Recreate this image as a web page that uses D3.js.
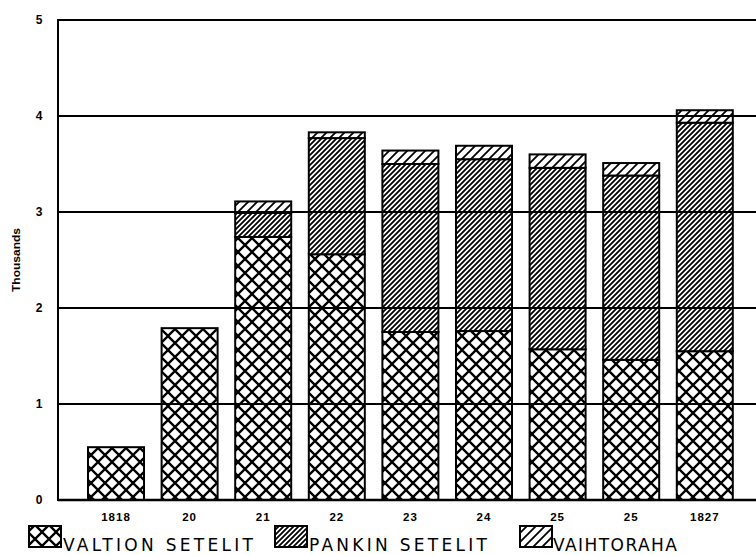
<!DOCTYPE html>
<html>
<head>
<meta charset="utf-8">
<script src="https://cdn.jsdelivr.net/npm/d3@7"></script>
<style>
  html, body { margin: 0; padding: 0; background: #fff; }
  svg { display: block; }
</style>
</head>
<body>
<svg id="chart" width="756" height="555"></svg>
<script>
// ---- data (thousands) ----
const years = ["1818", "20", "21", "22", "23", "24", "25", "25", "1827"];
const valtionSetelit = [0.55, 1.79, 2.74, 2.56, 1.75, 1.76, 1.57, 1.46, 1.55];
const pankinSetelit  = [0, 0, 0.25, 1.21, 1.75, 1.79, 1.89, 1.92, 2.38];
const vaihtoraha     = [0, 0, 0.12, 0.06, 0.14, 0.14, 0.14, 0.13, 0.13];
const yTicks = [0, 1, 2, 3, 4, 5];
const seriesNames = ["VALTION SETELIT", "PANKIN SETELIT", "VAIHTORAHA"];
const yTitle = "Thousands";

const svg = d3.select("#chart");
const defs = svg.append("defs");

// hatch patterns
function crossPattern(id, p, sw) {
  const pat = defs.append("pattern").attr("id", id)
    .attr("patternUnits", "userSpaceOnUse").attr("width", p).attr("height", p);
  pat.append("rect").attr("width", p).attr("height", p).attr("fill", "#fff");
  pat.append("path").attr("d", `M-1,-1 L${p+1},${p+1} M-1,${p+1} L${p+1},-1`)
    .attr("stroke", "#000").attr("stroke-width", sw);
}
function slashPattern(id, p, sw) {
  const pat = defs.append("pattern").attr("id", id)
    .attr("patternUnits", "userSpaceOnUse").attr("width", p).attr("height", p);
  pat.append("rect").attr("width", p).attr("height", p).attr("fill", "#fff");
  pat.append("path").attr("d", `M-1,${p+1} L${p+1},-1 M${-p/2},${p/2} L${p/2},${-p/2} M${p/2},${p*1.5} L${p*1.5},${p/2}`)
    .attr("stroke", "#000").attr("stroke-width", sw);
}
crossPattern("pValtion", 14, 2.3);
slashPattern("pPankin", 5, 1.8);
slashPattern("pVaiht", 9, 1.8);
const fills = ["url(#pValtion)", "url(#pPankin)", "url(#pVaiht)"];

// scales
const x = d3.scaleBand().domain(d3.range(years.length))
  .range([79.2, 741.6]).paddingInner(0.239).paddingOuter(0.1196);
const y = d3.scaleLinear().domain([0, 5]).range([500, 20]);

// stacked data
const rows = years.map((yr, i) => ({ i, v0: valtionSetelit[i], v1: pankinSetelit[i], v2: vaihtoraha[i] }));
const stack = d3.stack().keys(["v0", "v1", "v2"]);
const stacked = stack(rows);

const gBars = svg.append("g");
stacked.forEach((layer, k) => {
  gBars.selectAll(null).data(layer.filter(d => d[1] - d[0] > 0)).enter().append("rect")
    .attr("x", d => x(d.data.i))
    .attr("width", x.bandwidth())
    .attr("y", d => y(d[1]))
    .attr("height", d => y(d[0]) - y(d[1]))
    .attr("fill", fills[k])
    .attr("stroke", "#000")
    .attr("stroke-width", 2);
});

// gridlines (drawn over bars)
const xLeft = 58, xRight = 756;
svg.append("g").selectAll("line").data(yTicks.filter(t => t > 0)).enter().append("line")
  .attr("x1", xLeft).attr("x2", xRight)
  .attr("y1", d => y(d)).attr("y2", d => y(d))
  .attr("stroke", "#000").attr("stroke-width", 2);

// baseline and left axis
svg.append("line").attr("x1", xLeft).attr("x2", xRight).attr("y1", y(0)).attr("y2", y(0))
  .attr("stroke", "#000").attr("stroke-width", 2.6);
svg.append("line").attr("x1", xLeft).attr("x2", xLeft).attr("y1", y(5) - 1).attr("y2", y(0) + 1)
  .attr("stroke", "#000").attr("stroke-width", 2);

// y tick labels
svg.append("g").selectAll("text").data(yTicks).enter().append("text")
  .attr("x", 39).attr("y", d => y(d)).attr("dy", "0.36em")
  .attr("text-anchor", "middle")
  .attr("font-family", "Liberation Sans, Arial, sans-serif")
  .attr("font-weight", "bold").attr("font-size", 12)
  .text(d => d);

// y title
svg.append("text")
  .attr("transform", "translate(20,260) rotate(-90)")
  .attr("text-anchor", "middle")
  .attr("font-family", "Liberation Sans, Arial, sans-serif")
  .attr("font-weight", "bold").attr("font-size", 11.5)
  .attr("textLength", 64).attr("lengthAdjust", "spacingAndGlyphs")
  .text(yTitle);

// x tick labels
svg.append("g").selectAll("text").data(years).enter().append("text")
  .attr("x", (d, i) => x(i) + x.bandwidth() / 2)
  .attr("y", 520.5)
  .attr("text-anchor", "middle")
  .attr("font-family", "Liberation Sans, Arial, sans-serif")
  .attr("font-weight", "bold").attr("font-size", 11.5)
  .attr("letter-spacing", 1)
  .text(d => d);

// legend
const legendBoxes = [29, 275, 520];
const legendTextX = [63, 309, 553];
const legendTextW = [190, 178, 124];
const lg = svg.append("g");
seriesNames.forEach((name, k) => {
  lg.append("rect").attr("x", legendBoxes[k]).attr("y", 526)
    .attr("width", 32).attr("height", 21)
    .attr("fill", fills[k]).attr("stroke", "#000").attr("stroke-width", 2);
  lg.append("text").attr("x", legendTextX[k]).attr("y", 551)
    .attr("font-family", "DejaVu Sans, sans-serif")
    .attr("font-size", 17)
    .attr("textLength", legendTextW[k]).attr("lengthAdjust", "spacing")
    .text(name);
});
</script>
</body>
</html>
